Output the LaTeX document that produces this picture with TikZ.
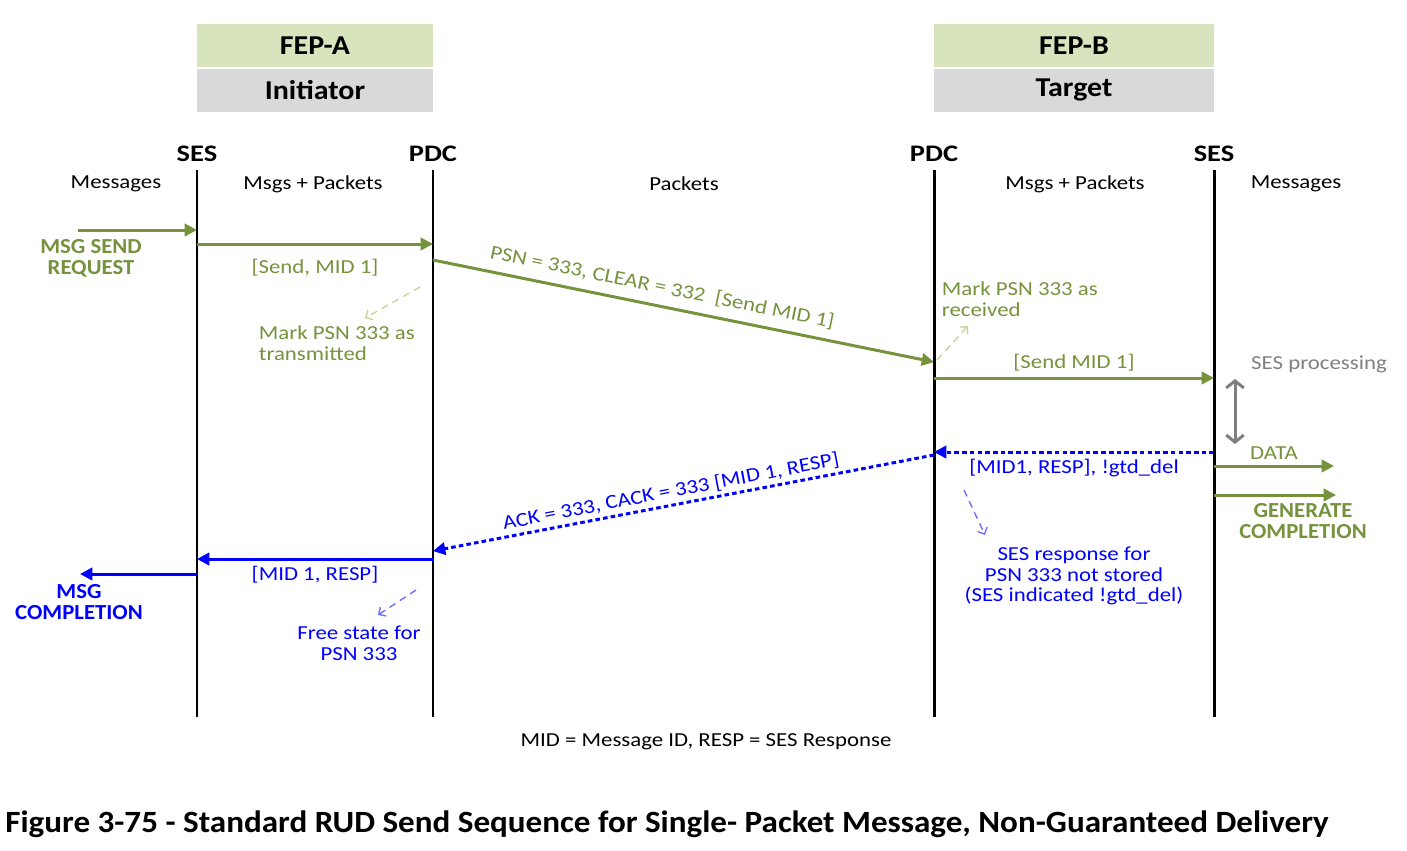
\documentclass[tikz,border=0pt]{standalone}
\usepackage{fontspec}
\setmainfont{Carlito}[FakeStretch=1.15]
\newfontfamily\lanefont{Carlito}[FakeStretch=1.2]
\newfontfamily\boxfont{Carlito}[FakeStretch=1.1]
\newfontfamily\labelfont{Carlito}[FakeStretch=1.06]
\newfontfamily\capfont{Carlito}[FakeStretch=1.07]
\usetikzlibrary{arrows.meta,positioning}

\definecolor{olivegr}{RGB}{118,146,60}
\definecolor{palegr}{RGB}{195,214,155}
\definecolor{hdgreen}{RGB}{215,228,189}
\definecolor{hdgray}{RGB}{217,217,217}
\definecolor{paleblue}{RGB}{110,110,255}
\definecolor{procgray}{RGB}{127,127,127}

\begin{document}
\begin{tikzpicture}[x=0.02cm,y=-0.02cm,
   lifeline/.style={line width=1.7pt},
   msg/.style={line width=1.7pt,-{Triangle[length=7pt,width=7pt]}},
   ret/.style={msg,dash pattern=on 2.6pt off 1.8pt},
   hint/.style={line width=0.8pt,dash pattern=on 4pt off 3pt,-{Straight Barb[length=3pt,width=6pt]}},
   txt/.style={font=\fontsize{11.3}{11.8}\selectfont,inner sep=2pt},
   boldtxt/.style={font=\labelfont\bfseries\fontsize{12.2}{12}\selectfont,inner sep=1pt,align=center},
   lanehd/.style={font=\lanefont\bfseries\fontsize{13.5}{14}\selectfont,inner sep=1pt},
   fepbox/.style={fill=hdgreen,minimum height=0.86cm,
      font=\boxfont\bfseries\fontsize{15.5}{16}\selectfont},
   rolebox/.style={fill=hdgray,minimum height=0.86cm,
      font=\boxfont\bfseries\fontsize{15.5}{16}\selectfont}]
   \useasboundingbox (0,0) rectangle (1407,850);

   % headers
   \node[fepbox,minimum width=4.72cm] (fepA) at (315,45.5) {FEP-A};
   \node[rolebox,minimum width=4.72cm,below=0.6pt of fepA] (initr) {Initiator};
   \node[fepbox,minimum width=5.6cm] (fepB) at (1074,45.5) {FEP-B};
   \node[rolebox,minimum width=5.6cm,below=0.6pt of fepB] (targ) {Target};

   % lifelines
   \node[lanehd] (sesA) at (197,154) {SES};
   \node[lanehd] (pdcA) at (433,154) {PDC};
   \node[lanehd] (pdcB) at (934,154) {PDC};
   \node[lanehd] (sesB) at (1214,154) {SES};
   \foreach \n/\x in {sesA/197,pdcA/433,pdcB/934,sesB/1214}
      \draw[lifeline] (\x,170) -- (\x,717);

   \node[txt] (zone1) at (116,184) {Messages};
   \node[txt] (zone2) at (313,184) {Msgs + Packets};
   \node[txt] (zone3) at (684,184) {Packets};
   \node[txt] (zone4) at (1075,184) {Msgs + Packets};
   \node[txt] (zone5) at (1296,184) {Messages};

   % send
   \coordinate (req) at (78,230);
   \draw[msg,olivegr] (req) -- (sesA |- req);
   \node[boldtxt,olivegr] (reqlbl) at (91,258) {MSG SEND\\REQUEST};

   \coordinate (s1) at (0,244);
   \draw[msg,olivegr] (sesA |- s1) -- node[txt,below=6pt] {[Send, MID 1]} (pdcA |- s1);

   \coordinate (s2) at (0,260);
   \coordinate (s3) at (0,362);
   \draw[msg,olivegr] (pdcA |- s2) -- node[txt,sloped,above=3pt,pos=0.45] {PSN = 333, CLEAR = 332~~[Send MID 1]} (pdcB |- s3);

   \node[txt,olivegr,align=left,anchor=north west] (txnote) at (255,322) {Mark PSN 333 as\\transmitted};
   \coordinate (h1a) at (420,287);
   \coordinate (h1b) at (365,318);
   \draw[hint,palegr] (h1a) -- (h1b);

   \node[txt,olivegr,align=left,anchor=north west] (rxnote) at (938,278) {Mark PSN 333 as\\received};
   \coordinate (h2a) at (937,360);
   \coordinate (h2b) at (968,326);
   \draw[hint,palegr] (h2a) -- (h2b);

   \coordinate (s4) at (0,378);
   \draw[msg,olivegr] (pdcB |- s4) -- node[txt,above=1pt] {[Send MID 1]} (sesB |- s4);

   % target side
   \node[txt,procgray] (proc) at (1319,364) {SES processing};
   \draw[line width=1.7pt,procgray,{Straight Barb[length=4pt,width=10pt]}-{Straight Barb[length=4pt,width=10pt]}]
      (1235,379) -- (1235,444);

   \coordinate (d1) at (1334,466);
   \draw[msg,olivegr] (sesB |- d1) -- node[txt,above=1pt] {DATA} (d1);
   \coordinate (g1) at (1336,495);
   \draw[msg,olivegr] (sesB |- g1) -- (g1);
   \node[boldtxt,olivegr] (genlbl) at (1303,521) {GENERATE\\COMPLETION};

   % response
   \coordinate (r1) at (0,452);
   \draw[ret,blue] (sesB |- r1) -- node[txt,below=1pt] {[MID1, RESP], !gtd\_del} (pdcB |- r1);

   \coordinate (r2) at (0,455);
   \coordinate (r3) at (0,551);
   \draw[ret,blue] (pdcB |- r2) -- node[txt,sloped,above,pos=0.52] {ACK = 333, CACK = 333 [MID 1, RESP]} (pdcA |- r3);

   \node[txt,blue,align=center] (gtdnote) at (1074,576) {SES response for\\PSN 333 not stored\\(SES indicated !gtd\_del)};
   \coordinate (h3a) at (964,490);
   \coordinate (h3b) at (985,535);
   \draw[hint,paleblue] (h3a) -- (h3b);

   \coordinate (r4) at (0,559);
   \draw[msg,blue] (pdcA |- r4) -- node[txt,below=1pt] {[MID 1, RESP]} (sesA |- r4);

   \coordinate (c1) at (80,574);
   \draw[msg,blue] (sesA |- c1) -- (c1);
   \node[boldtxt,blue] (cmplbl) at (79,602) {MSG\\COMPLETION};

   \node[txt,blue,align=center] (freenote) at (359,643) {Free state for\\PSN 333};
   \coordinate (h4a) at (416,590);
   \coordinate (h4b) at (378,615);
   \draw[hint,paleblue] (h4a) -- (h4b);

   % legend and caption
   \node[txt,font=\fontsize{11.3}{12}\selectfont] (legend) at (706,742) {MID = Message ID, RESP = SES Response};
   \node[anchor=west,inner sep=0pt,font=\capfont\bfseries\fontsize{17.6}{18}\selectfont] (caption) at (5,824)
      {Figure 3-75 - Standard RUD Send Sequence for Single- Packet Message, Non-Guaranteed Delivery};
\end{tikzpicture}
\end{document}
